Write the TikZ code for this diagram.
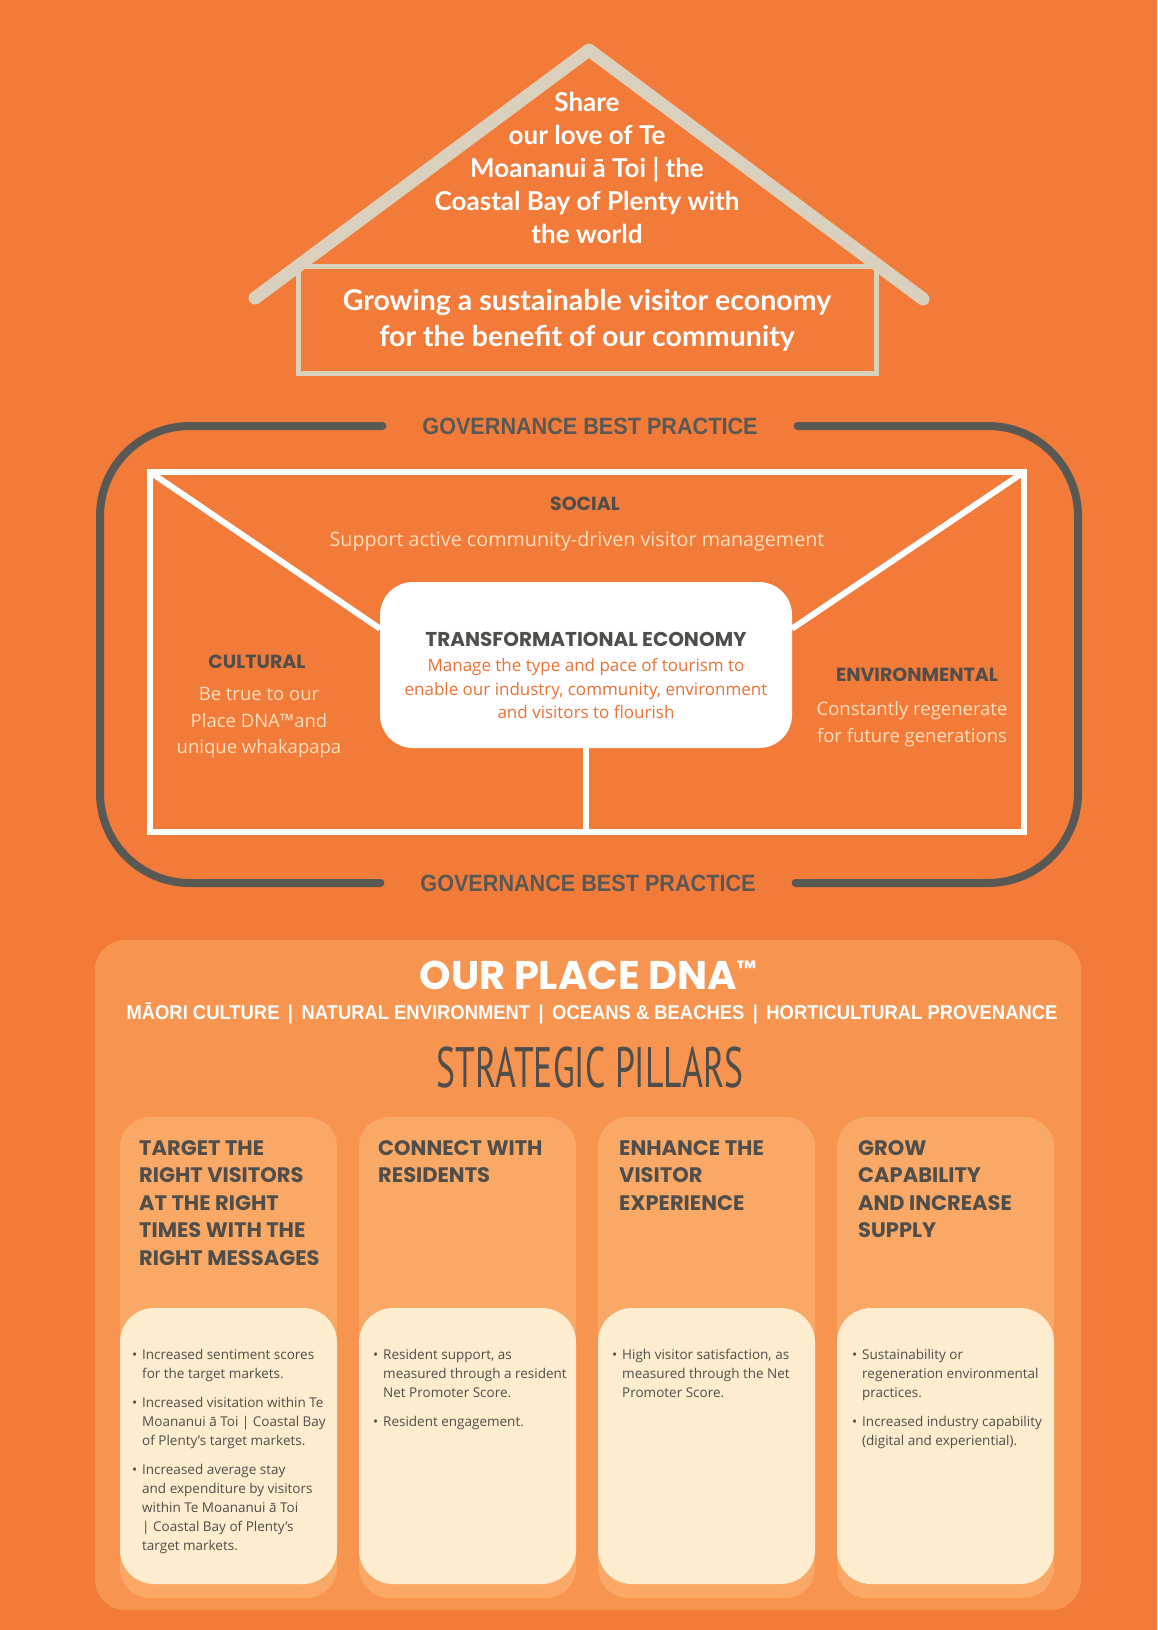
\documentclass[tikz,border=0pt]{standalone}
\usepackage{fontspec}
\setmainfont{Lato}
\newfontfamily\widefont{Poppins}
\newfontfamily\gridfont[FakeStretch=0.92]{Liberation Sans}
\newfontfamily\softfont{Open Sans}
\newfontfamily\tallfont[FakeStretch=0.625]{PT Sans}
\usetikzlibrary{positioning}
\definecolor{bgorange}{RGB}{242,123,58}
\definecolor{panelorange}{RGB}{247,148,80}
\definecolor{pillarorange}{RGB}{249,168,102}
\definecolor{cream}{RGB}{253,236,206}
\definecolor{roofgrey}{RGB}{218,208,190}
\definecolor{slate}{RGB}{88,88,84}
\definecolor{inkgrey}{RGB}{80,78,74}
\definecolor{peach}{RGB}{253,222,186}
\definecolor{deeporange}{RGB}{235,112,52}
\newcommand{\dotitem}{\makebox[10pt][l]{•}}
\newcommand{\dotcont}{\hspace*{10pt}}
\tikzset{
  RoofStyle/.style = {draw=roofgrey, line width=13pt, line cap=round, line join=round},
  MissionStyle/.style = {draw=roofgrey, line width=5pt, minimum width=578pt,
                         minimum height=107pt, outer sep=0pt, text=white, align=center,
                         font=\fontsize{28.5}{36}\selectfont\bfseries},
  VisionStyle/.style = {text=white, align=center, inner sep=0pt,
                        font=\fontsize{26}{33}\selectfont\bfseries},
  GovLabel/.style = {text=slate, inner xsep=40pt, inner ysep=0pt, outer sep=0pt,
                     font=\gridfont\fontsize{23.5}{26}\selectfont\bfseries},
  GovLine/.style = {draw=slate, line width=8pt, line cap=round, rounded corners=90pt},
  RingStyle/.style = {draw=white, line width=6pt, minimum width=874pt,
                      minimum height=360pt, outer sep=0pt},
  WhiteLine/.style = {draw=white, line width=6pt},
  EconStyle/.style = {fill=white, rounded corners=33pt, minimum width=412pt,
                      minimum height=166pt, outer sep=0pt},
  HeadStyle/.style = {text=inkgrey, inner sep=0pt, align=center,
                      font=\widefont\fontsize{19}{22}\selectfont\bfseries},
  PeachStyle/.style = {text=peach, inner sep=0pt, align=center,
                       font=\softfont\fontsize{18.5}{26.5}\selectfont},
  PanelStyle/.style = {fill=panelorange, rounded corners=30pt, minimum width=986pt,
                       minimum height=670pt},
  PillarStyle/.style = {fill=pillarorange, rounded corners=30pt, minimum width=217pt,
                        minimum height=481pt, outer sep=0pt},
  CreamStyle/.style = {fill=cream, rounded corners=34pt, minimum width=217pt,
                       minimum height=276pt, outer sep=0pt},
  PillarHead/.style = {text=inkgrey, anchor=north west, inner sep=0pt, align=left,
                       font=\widefont\fontsize{21}{27.5}\selectfont\bfseries},
  PillarNote/.style = {text=inkgrey, anchor=north west, inner sep=0pt, align=left,
                       font=\softfont\fontsize{13.5}{19}\selectfont}
}
\begin{document}
\begin{tikzpicture}[x=1pt, y=-1pt]
  \fill[bgorange] (0,0) rectangle (1157,1630);
  \useasboundingbox (0,0) rectangle (1157,1630);

  % house: roof and base
  \coordinate (eaveL) at (255,298);
  \coordinate (apex) at (589,50);
  \coordinate (eaveR) at (923,299);
  \node[MissionStyle] (mission) at (587,320)
    {Growing a sustainable visitor economy\\for the benefit of our community};
  \draw[RoofStyle] (eaveL) -- (apex) -- (eaveR);
  \node[VisionStyle] (vision) at (587,168)
    {Share\\our love of Te\\Moananui ā Toi | the\\Coastal Bay of Plenty with\\the world};

  % governance frame
  \node[GovLabel] (govtop) at (590,426) {GOVERNANCE BEST PRACTICE};
  \node[GovLabel] (govbot) at (588,883) {GOVERNANCE BEST PRACTICE};
  \draw[GovLine] (govtop.west) -- (100,426) -- (100,883) -- (govbot.west);
  \draw[GovLine] (govtop.east) -- (1078,426) -- (1078,883) -- (govbot.east);

  % pillars of the economy
  \node[RingStyle] (ring) at (587,652) {};
  \node[EconStyle] (econ) at (586,665) {};
  \draw[WhiteLine] (ring.north west) -- (econ.170);
  \draw[WhiteLine] (ring.north east) -- (econ.10);
  \draw[WhiteLine] (econ.south) -- (econ.south |- ring.south);

  \node[HeadStyle, font=\widefont\fontsize{20}{22}\selectfont\bfseries] (econhead) at (586,639)
    {TRANSFORMATIONAL ECONOMY};
  \node[PeachStyle, text=deeporange, font=\softfont\fontsize{17}{23.5}\selectfont] (econtxt) at (586,689)
    {Manage the type and pace of tourism to\\enable our industry, community, environment\\and visitors to flourish};

  \node[HeadStyle] (social) at (585,504) {SOCIAL};
  \node[PeachStyle, font=\softfont\fontsize{19.7}{24}\selectfont] (socialtxt) at (577,541)
    {Support active community-driven visitor management};
  \node[HeadStyle] (cultural) at (257,662) {CULTURAL};
  \node[PeachStyle] (culturaltxt) at (259,723) {Be true to our\\Place DNA™and\\unique whakapapa};
  \node[HeadStyle] (enviro) at (917,675) {ENVIRONMENTAL};
  \node[PeachStyle] (envirotxt) at (912,724) {Constantly regenerate\\for future generations};

  % place DNA and strategic pillars
  \node[PanelStyle] (dna) at (588,1275) {};
  \node[text=white, font=\widefont\fontsize{40}{44}\selectfont\bfseries] (dnahead) at (588,975)
    {OUR PLACE DNA\raisebox{0.55ex}{\fontsize{22}{22}\selectfont ™}};
  \node[text=white, font=\gridfont\fontsize{20}{22}\selectfont\bfseries] (dnastrip) at (592,1013)
    {MĀORI CULTURE \,|\, NATURAL ENVIRONMENT \,|\, OCEANS \& BEACHES \,|\, HORTICULTURAL PROVENANCE};
  \node[text=inkgrey, font=\tallfont\fontsize{57}{60}\selectfont] (pillarshead) at (590,1068)
    {STRATEGIC PILLARS};

  \node[PillarStyle] (p1) at (228.5,1357.5) {};
  \node[PillarStyle] (p2) at (467.5,1357.5) {};
  \node[PillarStyle] (p3) at (706.5,1357.5) {};
  \node[PillarStyle] (p4) at (945.5,1357.5) {};
  \node[CreamStyle] (c1) at (228.5,1446) {};
  \node[CreamStyle] (c2) at (467.5,1446) {};
  \node[CreamStyle] (c3) at (706.5,1446) {};
  \node[CreamStyle] (c4) at (945.5,1446) {};

  \node[PillarHead] (h1) at ([xshift=19pt, yshift=-23pt]p1.north west)
    {TARGET THE\\RIGHT VISITORS\\AT THE RIGHT\\TIMES WITH THE\\RIGHT MESSAGES};
  \node[PillarHead] (h2) at ([xshift=19pt, yshift=-23pt]p2.north west)
    {CONNECT WITH\\RESIDENTS};
  \node[PillarHead] (h3) at ([xshift=21pt, yshift=-23pt]p3.north west)
    {ENHANCE THE\\VISITOR\\EXPERIENCE};
  \node[PillarHead] (h4) at ([xshift=21pt, yshift=-23pt]p4.north west)
    {GROW\\CAPABILITY\\AND INCREASE\\SUPPLY};

  \node[PillarNote] (n1) at ([xshift=12pt, yshift=-41pt]c1.north west)
    {\dotitem Increased sentiment scores\\
     \dotcont for the target markets.\\[10pt]
     \dotitem Increased visitation within Te\\
     \dotcont Moananui ā Toi | Coastal Bay\\
     \dotcont of Plenty’s target markets.\\[10pt]
     \dotitem Increased average stay\\
     \dotcont and expenditure by visitors\\
     \dotcont within Te Moananui ā Toi\\
     \dotcont | Coastal Bay of Plenty’s\\
     \dotcont target markets.};
  \node[PillarNote] (n2) at ([xshift=14pt, yshift=-41pt]c2.north west)
    {\dotitem Resident support, as\\
     \dotcont measured through a resident\\
     \dotcont Net Promoter Score.\\[10pt]
     \dotitem Resident engagement.};
  \node[PillarNote] (n3) at ([xshift=14pt, yshift=-41pt]c3.north west)
    {\dotitem High visitor satisfaction, as\\
     \dotcont measured through the Net\\
     \dotcont Promoter Score.};
  \node[PillarNote] (n4) at ([xshift=15pt, yshift=-41pt]c4.north west)
    {\dotitem Sustainability or\\
     \dotcont regeneration environmental\\
     \dotcont practices.\\[10pt]
     \dotitem Increased industry capability\\
     \dotcont (digital and experiential).};
\end{tikzpicture}
\end{document}
